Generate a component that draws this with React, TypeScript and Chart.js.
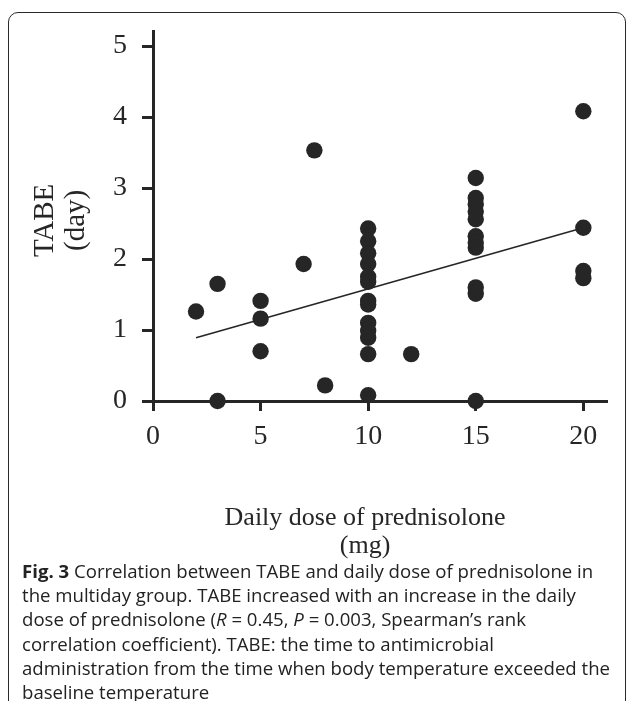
import React, { useEffect, useRef } from "react";
import { Chart, registerables } from "chart.js";

Chart.register(...registerables);

// Daily dose of prednisolone (mg)
const dose = [
  2, 3, 3, 5, 5, 5, 7, 7.5, 8,
  10, 10, 10, 10, 10, 10, 10, 10, 10, 10, 10, 10, 10,
  12,
  15, 15, 15, 15, 15, 15, 15, 15, 15, 15, 15,
  20, 20, 20, 20,
];
// TABE (day)
const tabe = [
  1.26, 1.65, 0, 1.41, 1.16, 0.7, 1.93, 3.53, 0.22,
  2.43, 2.25, 2.08, 1.93, 1.75, 1.68, 1.41, 1.36, 1.1, 0.99, 0.89, 0.66, 0.08,
  0.66,
  3.14, 2.86, 2.77, 2.67, 2.56, 2.32, 2.23, 2.16, 1.6, 1.51, 0,
  4.08, 2.44, 1.83, 1.73,
];
// Regression line end points
const trendX = [2, 20];
const trendY = [0.89, 2.44];

const xTicks = [0, 5, 10, 15, 20];
const yTicks = [0, 1, 2, 3, 4, 5];

const xTitle = ["Daily dose of prednisolone", "(mg)"];
const yTitle = ["TABE", "(day)"];

const INK = "#262626";
const SERIF = '"Liberation Serif", "Times New Roman", serif';

const titlePlugin = {
  id: "axisTitles",
  afterDraw(chart: any) {
    const ctx = chart.ctx;
    const area = chart.chartArea;
    ctx.save();
    ctx.fillStyle = INK;
    ctx.font = `26px ${SERIF}`;
    ctx.textAlign = "center";
    ctx.textBaseline = "middle";
    const cx = area.left + (area.right - area.left) * 0.467;
    ctx.fillText(xTitle[0], cx, area.bottom + 117);
    ctx.fillText(xTitle[1], cx, area.bottom + 145);
    const cy = (area.top + area.bottom) / 2 + 4;
    ctx.font = `29px ${SERIF}`;
    ctx.textBaseline = "alphabetic";
    ctx.translate(area.left - 100, cy);
    ctx.rotate(-Math.PI / 2);
    ctx.fillText(yTitle[0], 0, 0);
    ctx.fillText(yTitle[1], 0, 31);
    ctx.restore();
  },
};

function ChartView() {
  const ref = useRef<HTMLCanvasElement | null>(null);
  useEffect(() => {
    if (!ref.current) return;
    const chart = new Chart(ref.current, {
      type: "scatter",
      data: {
        datasets: [
          {
            type: "line",
            data: trendX.map((x, i) => ({ x, y: trendY[i] })),
            borderColor: INK,
            borderWidth: 1.6,
            pointRadius: 0,
            fill: false,
            clip: false,
          } as any,
          {
            data: dose.map((x, i) => ({ x, y: tabe[i] })),
            backgroundColor: INK,
            borderColor: INK,
            borderWidth: 0,
            pointRadius: 8.2,
            clip: false,
          } as any,
        ],
      },
      options: {
        animation: false,
        responsive: false,
        maintainAspectRatio: false,
        events: [],
        layout: { padding: { top: 29, right: 20, left: 0, bottom: 0 } },
        plugins: {
          legend: { display: false },
          tooltip: { enabled: false },
          title: { display: false },
        },
        scales: {
          x: {
            type: "linear",
            min: 0,
            max: 21.1,
            afterFit: (s: any) => {
              s.height = 159;
            },
            afterBuildTicks: (s: any) => {
              s.ticks = xTicks.map((v) => ({ value: v }));
            },
            ticks: {
              color: INK,
              font: { family: SERIF, size: 28 },
              padding: 9,
              includeBounds: false,
              maxRotation: 0,
            },
            grid: {
              display: true,
              drawOnChartArea: false,
              drawTicks: true,
              tickLength: 10,
              tickWidth: 3,
              tickColor: INK,
            },
            border: { display: true, width: 3, color: INK },
          },
          y: {
            type: "linear",
            min: 0,
            max: 5.2,
            afterFit: (s: any) => {
              s.width = 153;
            },
            afterBuildTicks: (s: any) => {
              s.ticks = yTicks.map((v) => ({ value: v }));
            },
            ticks: {
              color: INK,
              font: { family: SERIF, size: 28 },
              padding: 15,
              includeBounds: false,
            },
            grid: {
              display: true,
              drawOnChartArea: false,
              drawTicks: true,
              tickLength: 11,
              tickWidth: 3,
              tickColor: INK,
            },
            border: { display: true, width: 3, color: INK },
          },
        },
      } as any,
      plugins: [titlePlugin],
    });
    return () => chart.destroy();
  }, []);
  return (
    <canvas
      ref={ref}
      width={627}
      height={560}
      style={{ position: "absolute", left: 0, top: 0, width: 627, height: 560 }}
    />
  );
}

export default function App() {
  const captionStyle: React.CSSProperties = {
    position: "absolute",
    left: 22,
    top: 559,
    fontFamily: '"Open Sans", "Noto Sans", sans-serif',
    fontSize: 18.6,
    lineHeight: "24.2px",
    color: "#222",
    whiteSpace: "nowrap",
  };
  return (
    <div
      style={{
        position: "fixed",
        left: 0,
        top: 0,
        width: 627,
        height: 701,
        background: "#fff",
        overflow: "hidden",
      }}
    >
      <div
        style={{
          position: "absolute",
          left: 8,
          top: 12,
          width: 618,
          height: 760,
          border: "1.6px solid #2a2a2a",
          borderRadius: 10,
          boxSizing: "border-box",
        }}
      />
      <ChartView />
      <div style={captionStyle}>
        <b>Fig. 3</b> Correlation between TABE and daily dose of prednisolone in
        <br />
        the multiday group. TABE increased with an increase in the daily
        <br />
        dose of prednisolone (<i>R</i> = 0.45, <i>P</i> = 0.003, Spearman’s rank
        <br />
        correlation coefficient). TABE: the time to antimicrobial
        <br />
        administration from the time when body temperature exceeded the
        <br />
        baseline temperature
      </div>
    </div>
  );
}
